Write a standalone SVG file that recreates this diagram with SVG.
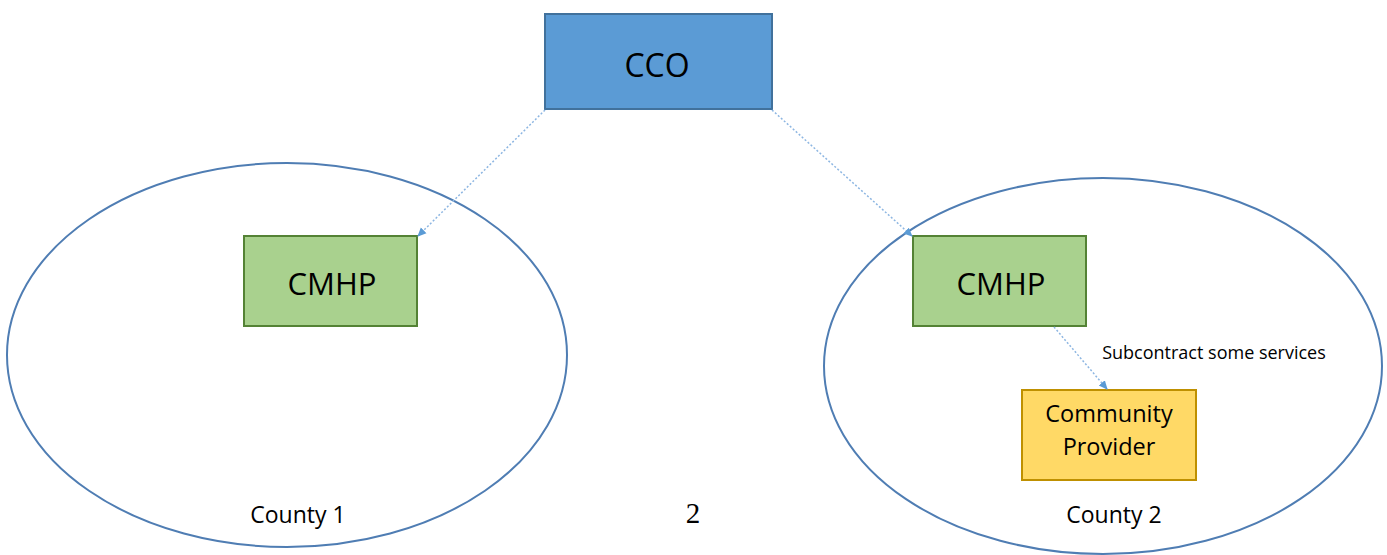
<svg xmlns="http://www.w3.org/2000/svg" width="1387" height="555" viewBox="0 0 1387 555">
<style>
.region{fill:none;stroke:#4f7db3;stroke-width:2}
.box{stroke-width:2}
.t{font-family:"Open Sans","Liberation Sans",sans-serif;fill:#000;text-anchor:middle}
.serif{font-family:"Liberation Serif","DejaVu Serif",serif;fill:#000;text-anchor:middle}
.conn{stroke:#8db6e2;stroke-width:1.5;fill:none;stroke-dasharray:2 2}
</style>
<defs>
<marker id="ah" markerWidth="10" markerHeight="10" refX="8" refY="5" orient="auto" markerUnits="userSpaceOnUse">
<path d="M0,1 L9,5 L0,9 Z" fill="#5b9bd5"/>
</marker>
</defs>
<rect width="1387" height="555" fill="#fff"/>
<g id="county1">
<ellipse class="region" cx="287" cy="355" rx="280" ry="192"/>
<text class="t" x="298" y="523" font-size="23">County 1</text>
</g>
<g id="county2">
<ellipse class="region" cx="1103" cy="366" rx="279" ry="188"/>
<text class="t" x="1114" y="523" font-size="23">County 2</text>
</g>
<g id="cco">
<rect class="box" x="545" y="14" width="227" height="95" fill="#5b9bd5" stroke="#41719c"/>
<text class="t" x="657" y="77" font-size="32">CCO</text>
</g>
<g id="cmhp1">
<rect class="box" x="244" y="236" width="173" height="90" fill="#a9d18e" stroke="#548235"/>
<text class="t" x="332" y="295" font-size="31">CMHP</text>
</g>
<g id="cmhp2">
<rect class="box" x="913" y="236" width="173" height="90" fill="#a9d18e" stroke="#548235"/>
<text class="t" x="1001" y="295" font-size="31">CMHP</text>
</g>
<g id="provider">
<rect class="box" x="1022" y="390" width="174" height="90" fill="#ffd966" stroke="#bf9000"/>
<text class="t" x="1109" y="422" font-size="23.5">Community</text>
<text class="t" x="1109" y="455" font-size="23.5">Provider</text>
</g>
<g id="connectors">
<line class="conn" x1="545" y1="110" x2="418" y2="236" marker-end="url(#ah)"/>
<line class="conn" x1="772" y1="110" x2="912" y2="236" marker-end="url(#ah)"/>
<line class="conn" x1="1054" y1="327" x2="1107" y2="389" marker-end="url(#ah)"/>
<text class="t" x="1214" y="359" font-size="18">Subcontract some services</text>
</g>
<text class="serif" x="693" y="523" font-size="29">2</text>
</svg>
